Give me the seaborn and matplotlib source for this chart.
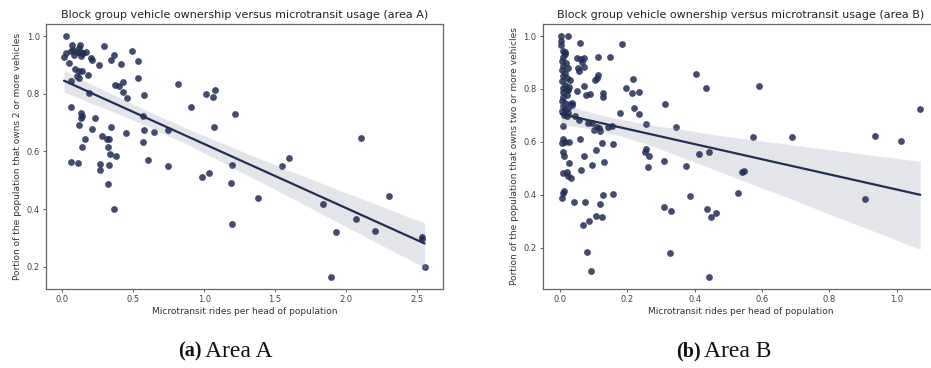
import numpy as np
import pandas as pd
import matplotlib
matplotlib.use("Agg")
import matplotlib.pyplot as plt
import seaborn as sns

# Area A: microtransit rides per head vs share of households with 2+ vehicles
area_a_rides = [
    0.024, 0.012, 0.028, 0.047, 0.064, 0.071, 0.083, 0.078, 0.106, 0.123,
    0.120, 0.118, 0.135, 0.142, 0.149, 0.170, 0.200, 0.212, 0.260, 0.295,
    0.342, 0.366, 0.413, 0.491, 0.531, 0.531, 0.088, 0.118, 0.142, 0.106,
    0.118, 0.184, 0.059, 0.189, 0.064, 0.130, 0.137, 0.130, 0.118, 0.231,
    0.208, 0.160, 0.142, 0.064, 0.111, 0.283, 0.318, 0.330, 0.342, 0.323,
    0.335, 0.375, 0.267, 0.264, 0.330, 0.323, 0.363, 0.373, 0.401, 0.425,
    0.430, 0.453, 0.446, 0.578, 0.566, 0.575, 0.571, 0.604, 0.649, 0.745,
    0.745, 0.814, 0.908, 0.983, 1.033, 1.016, 1.064, 1.075, 1.068, 1.219,
    1.193, 1.186, 1.193, 1.380, 1.545, 1.597, 1.835, 1.894, 1.927, 2.068,
    2.108, 2.205, 2.300, 2.535, 2.538, 2.554,
]
area_a_owns2 = [
    1.000, 0.926, 0.941, 0.907, 0.949, 0.970, 0.935, 0.952, 0.945, 0.970,
    0.958, 0.946, 0.930, 0.940, 0.941, 0.944, 0.924, 0.918, 0.900, 0.964,
    0.918, 0.933, 0.904, 0.949, 0.912, 0.855, 0.887, 0.878, 0.880, 0.861,
    0.855, 0.866, 0.843, 0.803, 0.754, 0.734, 0.722, 0.716, 0.692, 0.716,
    0.677, 0.643, 0.617, 0.562, 0.560, 0.654, 0.643, 0.643, 0.683, 0.614,
    0.592, 0.585, 0.557, 0.534, 0.554, 0.487, 0.400, 0.830, 0.826, 0.841,
    0.805, 0.786, 0.665, 0.795, 0.722, 0.674, 0.632, 0.571, 0.668, 0.673,
    0.548, 0.834, 0.753, 0.512, 0.525, 0.798, 0.788, 0.814, 0.683, 0.731,
    0.554, 0.490, 0.350, 0.439, 0.550, 0.579, 0.417, 0.165, 0.321, 0.365,
    0.646, 0.325, 0.444, 0.305, 0.297, 0.198,
]

# Area B
area_b_rides = [
    0.002, 0.025, 0.002, 0.002, 0.010, 0.015, 0.015, 0.008, 0.005, 0.018,
    0.010, 0.025, 0.005, 0.015, 0.008, 0.020, 0.005, 0.030, 0.015, 0.027,
    0.010, 0.025, 0.020, 0.008, 0.020, 0.010, 0.005, 0.015, 0.035, 0.030,
    0.010, 0.025, 0.035, 0.015, 0.005, 0.025, 0.012, 0.022, 0.010,
    0.059, 0.050, 0.061, 0.071, 0.064, 0.071, 0.054, 0.057, 0.071, 0.050,
    0.077, 0.090, 0.045, 0.057, 0.084, 0.094, 0.102, 0.109, 0.117, 0.119,
    0.142, 0.153,
    0.114, 0.150, 0.185, 0.104, 0.109, 0.112, 0.129, 0.129, 0.196, 0.178,
    0.216, 0.213, 0.235, 0.221, 0.235, 0.255, 0.255, 0.252, 0.264, 0.262,
    0.313, 0.344, 0.404, 0.434, 0.592, 0.572, 0.688, 0.308, 0.373, 0.412,
    0.444, 0.540, 0.546, 0.528, 0.387, 0.310, 0.331, 0.438, 0.463, 0.449,
    0.327, 0.444, 0.906, 0.936, 1.013, 1.070,
    0.010, 0.005, 0.015, 0.027, 0.059, 0.126, 0.158, 0.010, 0.012, 0.106,
    0.071, 0.028, 0.131, 0.096, 0.062, 0.010, 0.020, 0.025, 0.032, 0.012,
    0.008, 0.005, 0.042, 0.074, 0.119, 0.129, 0.158, 0.107, 0.124, 0.087,
    0.067, 0.081, 0.092,
]
area_b_owns2 = [
    1.000, 1.000, 0.982, 0.967, 0.942, 0.940, 0.932, 0.919, 0.907, 0.898,
    0.885, 0.878, 0.873, 0.860, 0.848, 0.841, 0.829, 0.834, 0.816, 0.808,
    0.803, 0.797, 0.796, 0.788, 0.778, 0.768, 0.756, 0.747, 0.746, 0.743,
    0.734, 0.728, 0.738, 0.722, 0.715, 0.708, 0.700, 0.696, 0.658,
    0.975, 0.916, 0.912, 0.916, 0.903, 0.884, 0.878, 0.868, 0.811, 0.793,
    0.777, 0.780, 0.698, 0.683, 0.670, 0.672, 0.645, 0.657, 0.651, 0.642,
    0.655, 0.660,
    0.919, 0.922, 0.969, 0.834, 0.843, 0.853, 0.786, 0.771, 0.803, 0.709,
    0.839, 0.785, 0.787, 0.728, 0.706, 0.669, 0.573, 0.562, 0.548, 0.505,
    0.744, 0.655, 0.856, 0.803, 0.810, 0.620, 0.620, 0.526, 0.510, 0.554,
    0.560, 0.486, 0.491, 0.405, 0.394, 0.352, 0.339, 0.346, 0.329, 0.317,
    0.179, 0.089, 0.383, 0.623, 0.603, 0.724,
    0.609, 0.597, 0.600, 0.600, 0.609, 0.597, 0.592, 0.560, 0.547, 0.569,
    0.545, 0.519, 0.523, 0.512, 0.493, 0.481, 0.485, 0.469, 0.462, 0.415,
    0.405, 0.386, 0.374, 0.374, 0.364, 0.400, 0.401, 0.320, 0.314, 0.301,
    0.286, 0.185, 0.110,
]

titles = [
    "Block group vehicle ownership versus microtransit usage (area A)",
    "Block group vehicle ownership versus microtransit usage (area B)",
]
ylabels = [
    "Portion of the population that owns 2 or more vehicles",
    "Portion of the population that owns two or more vehicles",
]
xlabel = "Microtransit rides per head of population"
caption_tags = ["(a)", "(b)"]
caption_texts = ["Area A", "Area B"]

sns.set_style("ticks")
plt.rcParams["font.family"] = ["DejaVu Sans"]

point_color = "#232e55"

fig = plt.figure(figsize=(9.31, 3.68), dpi=100)
ax_a = fig.add_axes([0.0494, 0.2147, 0.4261, 0.7201])
ax_b = fig.add_axes([0.5829, 0.2147, 0.4249, 0.7201])

frames = [
    pd.DataFrame({"rides": area_a_rides, "owns2": area_a_owns2}),
    pd.DataFrame({"rides": area_b_rides, "owns2": area_b_owns2}),
]

for ax, df, title, ylab in zip([ax_a, ax_b], frames, titles, ylabels):
    sns.regplot(
        data=df, x="rides", y="owns2", ax=ax, color=point_color, seed=0,
        scatter_kws={"s": 24, "alpha": 0.85, "linewidths": 0},
        line_kws={"linewidth": 1.6},
    )
    # lighten the confidence band
    for coll in ax.collections[1:]:
        coll.set_alpha(0.12)
    ax.set_title(title, fontsize=8.0, color="#222222", pad=4)
    ax.set_xlabel(xlabel, fontsize=6.45, color="#333333", labelpad=2)
    ax.set_ylabel(ylab, fontsize=6.45, color="#333333", labelpad=3)
    ax.tick_params(labelsize=6.0, length=2.5, width=0.6, colors="#444444", pad=2)
    for sp in ax.spines.values():
        sp.set_visible(True)
        sp.set_color("#666666")
        sp.set_linewidth(0.9)

ax_a.set_xticks([0.0, 0.5, 1.0, 1.5, 2.0, 2.5])
ax_a.set_yticks([0.2, 0.4, 0.6, 0.8, 1.0])
ax_b.set_xticks([0.0, 0.2, 0.4, 0.6, 0.8, 1.0])
ax_b.set_yticks([0.2, 0.4, 0.6, 0.8, 1.0])

# Sub-figure captions
cap_y = 0.03
for xc, tag, txt in zip([0.2165, 0.7525], caption_tags, caption_texts):
    fig.text(xc, cap_y, tag, ha="right", va="baseline", fontsize=14.5,
             family="Liberation Serif", fontweight="bold", color="#111111")
    fig.text(xc + 0.004, cap_y, txt, ha="left", va="baseline", fontsize=17,
             family="Liberation Serif", color="#111111")

fig.savefig("out.png", dpi=100)
